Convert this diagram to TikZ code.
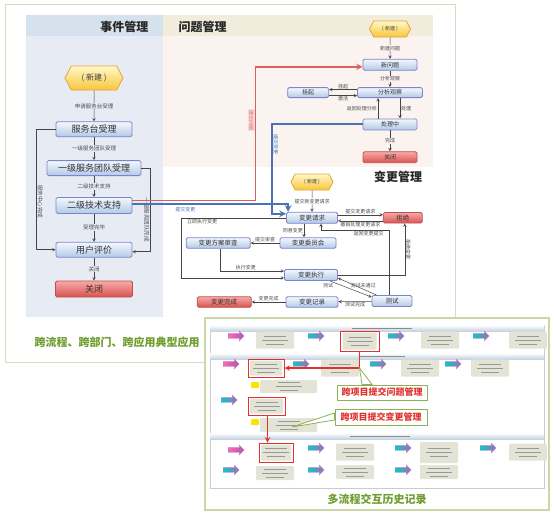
\documentclass[tikz,border=0pt]{standalone}
\usepackage{fontspec}
\setmainfont{Noto Sans CJK SC}
\usepackage{tikz}
\usetikzlibrary{arrows,positioning,shapes}

\definecolor{boxline}{HTML}{7F84C8}
\definecolor{boxtop}{HTML}{F4F8FD}
\definecolor{boxbot}{HTML}{B2C9E8}
\definecolor{redline}{HTML}{C0504D}
\definecolor{redtop}{HTML}{F6AAA8}
\definecolor{redbot}{HTML}{D9524F}
\definecolor{hexline}{HTML}{E9A23B}
\definecolor{hextop}{HTML}{FFF8C8}
\definecolor{hexbot}{HTML}{F8C63C}
\definecolor{evbg}{HTML}{E7ECF4}
\definecolor{evhead}{HTML}{D6E1EE}
\definecolor{pbbg}{HTML}{FAF3EF}
\definecolor{pbhead}{HTML}{F1ECDC}
\definecolor{framecol}{HTML}{D8DBBF}
\definecolor{lnk}{HTML}{454545}
\definecolor{probred}{HTML}{D9605E}
\definecolor{chgblue}{HTML}{4A73B5}
\definecolor{capgreen}{HTML}{6F9E2E}
\definecolor{panelline}{HTML}{C9D8A6}
\definecolor{shotgray}{HTML}{E4E4D6}
\definecolor{hbar}{HTML}{C6D4E1}
\definecolor{shotred}{HTML}{E0322F}

\begin{document}
\begin{tikzpicture}[x=1pt,y=-1pt,
	proc/.style={rectangle,rounded corners=1.5pt,draw=boxline,line width=0.8pt,top color=boxtop,bottom color=boxbot,inner sep=0pt,text=black!80},
	closing/.style={rectangle,rounded corners=1.5pt,draw=redline,line width=0.8pt,top color=redtop,bottom color=redbot,inner sep=0pt,text=black!80},
	newhex/.style={signal,signal to=east and west,signal pointer angle=125,draw=hexline,line width=0.8pt,top color=hextop,bottom color=hexbot,inner sep=0pt,text=black!75},
	evbox/.style={proc,minimum width=76pt,minimum height=15pt,font=\fontsize{9}{10}\selectfont},
	evclose/.style={closing,minimum width=77pt,minimum height=16pt,font=\fontsize{9}{10}\selectfont},
	pbbox/.style={proc,minimum width=54pt,minimum height=11pt,font=\fontsize{6}{6}\selectfont},
	pbclose/.style={closing,minimum width=54pt,minimum height=11pt,font=\fontsize{6}{6}\selectfont},
	chbox/.style={proc,minimum width=52pt,minimum height=10.5pt,font=\fontsize{6.5}{6.5}\selectfont},
	chclose/.style={closing,minimum width=52pt,minimum height=10.5pt,font=\fontsize{6.5}{6.5}\selectfont},
	heading/.style={font=\fontsize{12}{12}\selectfont\bfseries,text=black!85},
	lbl/.style={font=\fontsize{5}{5}\selectfont,text=black!70,inner sep=0.8pt},
	evlbl/.style={lbl,font=\fontsize{5.5}{5.5}\selectfont,fill=evbg},
	paths/.style={->,>=stealth,draw=lnk,line width=0.5pt},
	probpath/.style={->,>=stealth,draw=probred,line width=1.8pt},
	chgpath/.style={->,>=stealth,draw=chgblue,line width=2pt},
	shot/.style={rectangle,fill=shotgray,rounded corners=1pt,minimum width=38pt,minimum height=17pt,inner sep=0pt,
		path picture={\draw[black!40,line width=0.7pt] ([xshift=-11pt,yshift=4pt]path picture bounding box.center) -- ++(22,0)
		([xshift=-13pt]path picture bounding box.center) -- ++(26,0)
		([xshift=-9pt,yshift=-4pt]path picture bounding box.center) -- ++(18,0);}},
	hit/.style={rectangle,draw=shotred,line width=1pt,inner sep=0pt},
	goarrow/.style={single arrow,single arrow head extend=2.5pt,text height=4.5pt,text depth=0pt,text width=8pt,minimum height=16pt,inner sep=0pt,draw=violet!50,line width=0.3pt},
	pinkgo/.style={goarrow,left color=magenta!55!red!60,right color=violet!65},
	bluego/.style={goarrow,left color=cyan!60!teal,right color=violet!60},
	yicon/.style={rectangle,rounded corners=1pt,fill=yellow!85!orange,minimum width=8pt,minimum height=6pt,inner sep=0pt},
	shotlink/.style={->,>=stealth,draw=shotred,line width=1.4pt},
	callbox/.style={rectangle,draw=capgreen!80,line width=1pt,fill=white,text=shotred,font=\fontsize{9}{9}\selectfont\bfseries,minimum width=90pt,minimum height=15pt,inner sep=0pt},
	captext/.style={font=\fontsize{11}{11}\selectfont\bfseries,text=capgreen}
	]
\useasboundingbox (0,0) rectangle (554,517);
\fill[white] (0,0) rectangle (554,517);

% backgrounds of the three processes
\fill[evbg] (26,15) rectangle (163,317);
\fill[evhead] (26,15) rectangle (163,36);
\fill[pbbg] (163,15) rectangle (433,167);
\fill[pbhead] (163,15) rectangle (433,36);
\draw[framecol,line width=1pt] (205,362) -- (5,362) -- (5,4) -- (455,4) -- (455,318);

\node[heading,anchor=east] (evtitle) at (152,27) {事件管理};
\node[heading,anchor=west] (pbtitle) at (175,27) {问题管理};
\node[heading] (chtitle) at (398,177) {变更管理};

% event management
\node [newhex,minimum width=58pt,minimum height=24pt,font=\fontsize{8}{8}\selectfont] (e0) at (94,78) {( 新建 )};
\node [evbox] (e1) [below = 31pt of e0] {服务台受理};
\node [evbox,minimum width=94pt] (e2) [below = 23pt of e1] {一级服务团队受理};
\node [evbox,minimum height=16pt] (e3) [below = 21pt of e2] {二级技术支持};
\node [evbox] (e4) [below = 28pt of e3] {用户评价};
\node [evclose] (e5) [below = 23pt of e4] {关闭};

\draw [paths] (e0) to node [evlbl] {申请服务台受理} (e1);
\draw [paths] (e1) to node [evlbl] {一级服务团队受理} (e2);
\draw [paths] (e2) to node [evlbl] {二级技术支持} (e3);
\draw [paths] (e3) to node [evlbl] {受理完毕} (e4);
\draw [paths] (e4) to node [evlbl] {关闭} (e5);
\draw [paths] (e1.west) -- ++(-19,0) |- node [pos=0.3,evlbl,rotate=-90,anchor=south] {服务中心完成} (e4.west);
\draw [paths] (e2.east) -- ++(9,0) |- node [pos=0.31,evlbl,rotate=-90,anchor=north] {一级服务团队完成} ([yshift=-2pt]e4.east);

% problem management
\node [newhex,minimum width=41pt,minimum height=16pt,font=\fontsize{5}{5}\selectfont] (p0) at (390,29) {( 新建 )};
\node [pbbox] (p1) [below = 21.5pt of p0] {新问题};
\node [pbbox,minimum width=65pt,minimum height=10pt] (p2) [below = 16.5pt of p1] {分析观察};
\node [pbbox,minimum width=41pt,minimum height=10pt] (p3) [left = 28pt of p2] {挂起};
\node [pbbox] (p4) [below = 20.5pt of p2] {处理中};
\node [pbclose] (p5) [below = 21pt of p4] {关闭};

\draw [paths] (p0) to node [lbl,fill=pbbg] {新建问题} (p1);
\draw [paths] (p1) to node [lbl,fill=pbbg] {分析观察} (p2);
\draw [paths] ([yshift=3pt]p2.west) to node [lbl,above] {挂起} ([yshift=3pt]p3.east);
\draw [paths] ([yshift=-3pt]p3.east) to node [lbl,below] {激活} ([yshift=-3pt]p2.west);
\draw [paths] ([xshift=-12pt]p4.north) to node [lbl,left] {返回处理分析} ([xshift=-12pt]p2.south);
\draw [paths] ([xshift=10pt]p2.south) to node [lbl,right] {处理} ([xshift=10pt]p4.north);
\draw [paths] (p4) to node [lbl,fill=pbbg] {完成} (p5);

% change management
\node [newhex,minimum width=42pt,minimum height=16pt,font=\fontsize{5}{5}\selectfont] (c0) at (312,182) {( 新建 )};
\node [chbox,minimum width=51pt,minimum height=11pt] (c1) [below = 21.5pt of c0] {变更请求};
\node [chclose,minimum width=39pt] (cr) [right = 45pt of c1] {拒绝};
\node [chbox,minimum width=56pt] (c2) at (308,243) {变更委员会};
\node [chbox,minimum width=64pt] (c3) [left = 29pt of c2] {变更方案审查};
\node [chbox,minimum width=53pt,minimum height=11pt] (c4) at (311,275) {变更执行};
\node [chbox,minimum width=40pt,minimum height=11pt] (c5) at (392,301) {测试};
\node [chbox] (c6) at (312,302) {变更记录};
\node [chclose,minimum width=54pt] (c7) [left = 34pt of c6] {变更完成};

\draw [paths] (c0) to node [lbl,fill=white] {提交新变更请求} (c1);
\draw [paths] ([yshift=3pt]c1.east) to node [lbl,above] {提交变更请求} ([yshift=3pt]cr.west);
\draw [paths] ([yshift=-3pt]cr.west) to node [lbl,below] {撤销处理变更请求} ([yshift=-3pt]c1.east);
\draw [paths] ([xshift=-8pt]c1.south) to node [lbl,left] {同意变更} ([xshift=-4pt]c2.north);
\draw [paths] (c2) to node [lbl,above] {提交审查} (c3);
\draw [paths] ([xshift=2pt]c3.south) |- node [pos=0.7,lbl,above] {执行变更} ([yshift=4pt]c4.west);
\draw [paths] (c1.west) -- node [pos=0.8,lbl,below] {立即执行变更} ++(-105,0) |- ([yshift=-3pt]c4.west);
\draw [paths] (c4.east) -| node [pos=0.75,lbl,rotate=-90,anchor=south] {拒绝变更} ([xshift=2pt]cr.south);
\draw [paths] ([xshift=-8pt]c4.south east) to node [pos=0.1,lbl,below left] {测试} ([yshift=-2pt]c5.north west);
\draw [paths] ([xshift=5pt]c5.north west) to node [pos=0.35,lbl,above] {测试未通过} ([yshift=-3pt]c4.east);
\draw [paths] ([xshift=-3pt]c5.north) -- ++(0,-64.5) -| node [pos=0.15,lbl,below] {返回变更提交} ([xshift=9pt]c1.south);
\draw [paths] (c5) to node [lbl,below] {测试完成} (c6);
\draw [paths] (c6) to node [lbl,above] {变更完成} (c7);

% links between the processes
\draw [probpath] ([yshift=5pt]e3.east) -- ++(123,0) |- node [pos=0.3,lbl,rotate=-90,anchor=north,text=probred,fill=probred!20] {提交问题} ([yshift=-2pt]p1.west);
\draw [chgpath] (p4.west) -- ++(-91,0) |- node [pos=0.11,lbl,rotate=-90,anchor=south,text=chgblue] {提交变更} ([yshift=4pt]c1.west);
\draw [chgpath] ([yshift=1pt]e3.east) -| node [pos=0.17,lbl,below=1pt,text=chgblue] {提交变更} ([xshift=2pt]c1.north west);

\node [captext] (cap1) at (117,342) {跨流程、跨部门、跨应用典型应用};

% history screenshot
\draw [panelline,line width=1.2pt,fill=white] (205,318) rectangle (549,510);
\draw [black!20] (210,325) rectangle (544,488);
\shade [top color=white,bottom color=hbar] (210,325) rectangle (544,331);
\shade [top color=white,bottom color=hbar] (210,353) rectangle (544,359);
\shade [top color=white,bottom color=hbar] (210,433) rectangle (544,439);
\draw [black!45,line width=0.8pt] (352,328) -- (412,328) (360,356) -- (405,356) (350,436) -- (410,436);

\node [pinkgo] (a1) at (235,336) {};
\node [shot] (b1) at (275,340) {};
\node [bluego] (a2) at (315,336) {};
\node [shot,minimum width=34pt] (b2) at (359.5,341) {};
\node [hit,minimum width=39pt,minimum height=20pt] (h1) at (359.5,341) {};
\node [bluego] (a3) at (395,336) {};
\node [shot] (b3) at (440,340) {};
\node [bluego] (a4) at (480,336) {};
\node [shot] (b4) at (528,340) {};

\node [pinkgo] (a5) at (230,364) {};
\node [shot,minimum width=32pt,minimum height=15pt] (b5) at (266,368) {};
\node [hit,minimum width=36pt,minimum height=18pt] (h2) at (266,368) {};
\node [bluego] (a6) at (300,364) {};
\node [shot] (b6) at (340,368) {};
\node [bluego] (a7) at (377,364) {};
\node [shot] (b7) at (420,368) {};
\node [bluego] (a8) at (452,364) {};
\node [shot] (b8) at (490,368) {};
\node [yicon] (y1) at (255,385) {};
\node [shot,minimum width=57pt,minimum height=13pt] (b9) at (288.5,386.5) {};

\node [bluego] (a9) at (228,400) {};
\node [shot,minimum width=33pt,minimum height=15pt] (b10) at (266.5,406) {};
\node [hit,minimum width=37pt,minimum height=18pt] (h3) at (266.5,406) {};
\node [yicon] (y2) at (255,422) {};
\node [shot,minimum width=57pt,minimum height=14pt] (b11) at (288.5,425) {};

\node [pinkgo] (a10) at (235,450) {};
\node [shot,minimum width=30pt,minimum height=16pt] (b12) at (276,452.5) {};
\node [hit,minimum width=34pt,minimum height=19pt] (h4) at (276,452.5) {};
\node [bluego] (a11) at (315,448) {};
\node [shot] (b13) at (355,452) {};
\node [bluego] (a12) at (402,448) {};
\node [shot,minimum height=21pt] (b14) at (439,452.5) {};
\node [bluego] (a13) at (487,448) {};
\node [shot] (b15) at (528,452) {};

\node [bluego] (a14) at (230,470) {};
\node [shot,minimum height=14pt] (b16) at (275,473) {};
\node [bluego] (a15) at (315,470) {};
\node [shot,minimum height=14pt] (b17) at (355,472) {};
\node [bluego] (a16) at (402,470) {};
\node [shot,minimum height=14pt] (b18) at (439,472) {};

\draw [shotlink] (h1.south) |- (h2.east);
\draw [shotlink] ([xshift=1pt]h3.south) -- ([xshift=-8.5pt]h4.north);

\node [callbox] (n1) at (382,392.5) {跨项目提交问题管理};
\node [callbox,minimum width=92pt,minimum height=16pt] (n2) at (381,417) {跨项目提交变更管理};
\coordinate (k1) at (359.5,368);
\coordinate (k2) at (292,427);
\filldraw [draw=capgreen!80,fill=white,line width=0.8pt] (k1) -- ([xshift=-20pt]n1.north) -- ([xshift=-10pt]n1.north) -- cycle;
\filldraw [draw=capgreen!80,fill=white,line width=0.8pt] (k2) -- ([yshift=4pt]n2.west) -- ([yshift=-3pt]n2.west) -- cycle;

\node [captext] (cap2) at (377,499) {多流程交互历史记录};
\end{tikzpicture}
\end{document}
